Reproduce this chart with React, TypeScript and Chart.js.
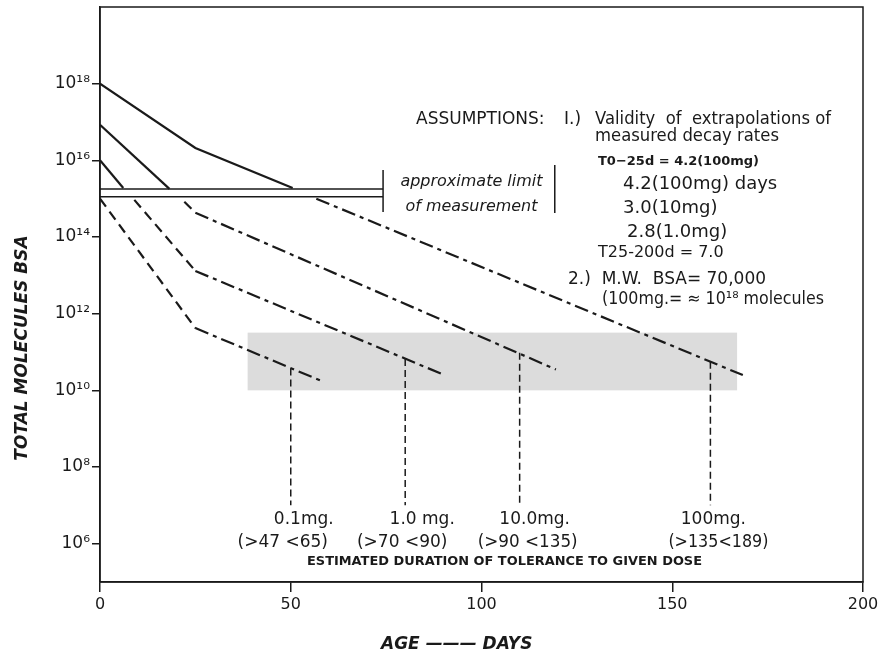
import { useEffect, useRef } from 'react';
import { Chart, registerables } from 'chart.js';

Chart.register(...registerables);

// ---------- data ----------
const dayTicks = [0, 50, 100, 150, 200];
const yTickValues = [1e6, 1e8, 1e10, 1e12, 1e14, 1e16, 1e18];

// 100 mg
const d100Solid = [0, 25, 50.5];
const m100Solid = [1e18, 2.1e16, 1.9e15];
const d100DashDot = [56.7, 168.5];
const m100DashDot = [1.0e15, 2.5e10];
// 10 mg
const d10Solid = [0, 18.2];
const m10Solid = [8.5e16, 1.8e15];
const d10Dash = [22.1, 25];
const m10Dash = [8.3e14, 4.3e14];
const d10DashDot = [25, 119.5];
const m10DashDot = [4.3e14, 3.5e10];
// 1.0 mg
const d1Solid = [0, 6.1];
const m1Solid = [1e16, 1.9e15];
const d1Dash = [9.0, 25];
const m1Dash = [9.3e14, 1.3e13];
const d1DashDot = [25, 89.9];
const m1DashDot = [1.3e13, 2.6e10];
// 0.1 mg
const d01Dash = [0, 25];
const m01Dash = [1e15, 4.2e11];
const d01DashDot = [25, 58.4];
const m01DashDot = [4.2e11, 1.7e10];

// estimated duration of tolerance
const doseLabels = ['0.1mg.', '1.0 mg.', '10.0mg.', '100mg.'];
const toleranceRanges = ['(>47 <65)', '(>70 <90)', '(>90 <135)', '(>135<189)'];
const toleranceDays = [50, 80, 110, 160];
const toleranceTop = [3.7e10, 6.6e10, 9.5e10, 5.6e10];
const toleranceBottom = [1e7, 1e7, 1e7, 1e7];

// approximate limit of measurement
const limitDays = [0, 74.2];
const limitLow = [1.12e15, 1.12e15];
const limitHigh = [1.78e15, 1.78e15];

// shaded zone
const grayDays = [38.7, 167];
const grayMol = [1e10, 3.2e11];

// ---------- styles ----------
const INK = '#1a1a1a';
const SOLID: number[] = [];
const DASH = [10, 6];
const DASHDOT = [14, 5, 4, 5];
const DROP = [7, 4];

const SUP: Record<string, string> = {
  '0': '⁰', '1': '¹', '2': '²', '3': '³', '4': '⁴',
  '5': '⁵', '6': '⁶', '7': '⁷', '8': '⁸', '9': '⁹',
};

const pts = (xs: number[], ys: number[]) => xs.map((v, i) => ({ x: v, y: ys[i] }));

const curve = (xs: number[], ys: number[], dash: number[], width = 2.2) => ({
  data: pts(xs, ys),
  borderColor: INK,
  borderWidth: width,
  borderDash: dash,
  pointRadius: 0,
  fill: false,
  tension: 0,
});

function txt(
  ctx: CanvasRenderingContext2D,
  s: string,
  x: number,
  y: number,
  font: string,
  align: CanvasTextAlign = 'left',
  maxW?: number
) {
  ctx.font = font;
  ctx.textAlign = align;
  ctx.textBaseline = 'middle';
  if (maxW) ctx.fillText(s, x, y, maxW);
  else ctx.fillText(s, x, y);
}

const annotations = {
  id: 'annotations',
  beforeDatasetsDraw(chart: any) {
    const { ctx, scales } = chart;
    const x = scales.x;
    const y = scales.y;
    ctx.save();
    ctx.fillStyle = '#dcdcdc';
    const x0 = x.getPixelForValue(grayDays[0]);
    const x1 = x.getPixelForValue(grayDays[1]);
    const y0 = y.getPixelForValue(grayMol[1]);
    const y1 = y.getPixelForValue(grayMol[0]);
    ctx.fillRect(x0, y0, x1 - x0, y1 - y0);
    ctx.restore();
  },
  afterDraw(chart: any) {
    const { ctx, chartArea, scales } = chart;
    const x = scales.x;
    const y = scales.y;
    ctx.save();
    ctx.strokeStyle = INK;
    ctx.fillStyle = INK;
    ctx.lineWidth = 1.5;
    ctx.setLineDash([]);
    // frame
    ctx.strokeRect(chartArea.left, chartArea.top, chartArea.right - chartArea.left, chartArea.bottom - chartArea.top);

    // limit of measurement end mark + text
    const xl = x.getPixelForValue(limitDays[1]);
    const yMid = (y.getPixelForValue(limitLow[1]) + y.getPixelForValue(limitHigh[1])) / 2;
    ctx.beginPath();
    ctx.moveTo(xl, yMid - 23);
    ctx.lineTo(xl, yMid + 19);
    ctx.moveTo(xl + 171.7, yMid - 28);
    ctx.lineTo(xl + 171.7, yMid + 20);
    ctx.stroke();
    const itf = 'italic 16px "DejaVu Sans", sans-serif';
    txt(ctx, 'approximate limit', xl + 88.4, yMid - 11.3, itf, 'center', 152);
    txt(ctx, 'of measurement', xl + 88.4, yMid + 13.7, itf, 'center', 132);

    // dose labels
    const offs = [13, 17, 15, 3];
    const offs2 = [-8, -3, 8, 8];
    const yb = y.getPixelForValue(toleranceBottom[0]);
    const lf = '17px "DejaVu Sans", sans-serif';
    toleranceDays.forEach((d, i) => {
      const px = x.getPixelForValue(d);
      txt(ctx, doseLabels[i], px + offs[i], yb + 14, lf, 'center', 72);
      txt(ctx, toleranceRanges[i], px + offs2[i], yb + 37.5, lf, 'center', 100);
    });
    txt(ctx, 'ESTIMATED DURATION OF TOLERANCE TO GIVEN DOSE', 504.5, 561.5,
      'bold 13px "DejaVu Sans", sans-serif', 'center', 395);

    // assumptions block
    const af = '17px "DejaVu Sans", sans-serif';
    txt(ctx, 'ASSUMPTIONS:', 416, 119.5, af, 'left', 134);
    txt(ctx, 'I.)', 564, 119.5, af, 'left');
    txt(ctx, 'Validity  of  extrapolations of', 595, 119.5, af, 'left', 236);
    txt(ctx, 'measured decay rates', 595, 137, af, 'left', 184);
    txt(ctx, 'T0−25d = 4.2(100mg)', 598, 162, 'bold 13px "DejaVu Sans", sans-serif', 'left', 172);
    txt(ctx, '4.2(100mg) days', 623, 184.5, '18px "DejaVu Sans", sans-serif', 'left', 157);
    txt(ctx, '3.0(10mg)', 623, 208.5, '18px "DejaVu Sans", sans-serif', 'left', 100);
    txt(ctx, '2.8(1.0mg)', 627, 232, '18px "DejaVu Sans", sans-serif', 'left', 101);
    txt(ctx, 'T25-200d = 7.0', 598, 253, '16px "DejaVu Sans", sans-serif', 'left', 130);
    txt(ctx, '2.)  M.W.  BSA= 70,000', 568, 280, '17px "DejaVu Sans", sans-serif', 'left', 200);
    txt(ctx, '(100mg.= ≈ 10¹⁸ molecules', 602, 300, '17px "DejaVu Sans", sans-serif', 'left', 222);

    // axis titles
    txt(ctx, 'AGE ——— DAYS', 456.7, 645, 'italic bold 17px "DejaVu Sans", sans-serif', 'center', 153);
    ctx.translate(22.5, 348);
    ctx.rotate(-Math.PI / 2);
    txt(ctx, 'TOTAL MOLECULES BSA', 0, 0, 'italic bold 17px "DejaVu Sans", sans-serif', 'center', 230);
    ctx.restore();
  },
};

export default function App() {
  const ref = useRef<HTMLCanvasElement | null>(null);

  useEffect(() => {
    if (!ref.current) return;
    const datasets: any[] = [
      // 100 mg
      curve(d100Solid, m100Solid, SOLID),
      curve(d100DashDot, m100DashDot, DASHDOT),
      // 10 mg
      curve(d10Solid, m10Solid, SOLID),
      curve(d10Dash, m10Dash, DASH),
      curve(d10DashDot, m10DashDot, DASHDOT),
      // 1.0 mg
      curve(d1Solid, m1Solid, SOLID),
      curve(d1Dash, m1Dash, DASH),
      curve(d1DashDot, m1DashDot, DASHDOT),
      // 0.1 mg
      curve(d01Dash, m01Dash, DASH),
      curve(d01DashDot, m01DashDot, DASHDOT),
      // limit of measurement
      curve(limitDays, limitLow, SOLID, 1.5),
      curve(limitDays, limitHigh, SOLID, 1.5),
    ];
    toleranceDays.forEach((d, i) => {
      datasets.push(curve([d, d], [toleranceTop[i], toleranceBottom[i]], DROP, 1.5));
    });

    const chart = new Chart(ref.current, {
      type: 'line',
      data: { datasets },
      plugins: [annotations],
      options: {
        responsive: false,
        animation: false,
        events: [],
        layout: { padding: { top: 7, right: 20, bottom: 10, left: 0 } },
        plugins: { legend: { display: false }, tooltip: { enabled: false }, title: { display: false } },
        scales: {
          x: {
            type: 'linear',
            min: 0,
            max: 200,
            afterBuildTicks: (s: any) => {
              s.ticks = dayTicks.map((v) => ({ value: v }));
            },
            ticks: {
              color: INK,
              font: { family: '"DejaVu Sans", sans-serif', size: 16 },
              padding: 3,
              maxRotation: 0,
              autoSkip: false,
            },
            grid: { drawOnChartArea: false, drawTicks: true, tickLength: 10, color: INK, lineWidth: 1.5 },
            border: { display: true, color: INK, width: 1.5 },
            afterFit: (s: any) => {
              s.height = 65;
              s.paddingLeft = 0;
              s.paddingRight = 0;
            },
          },
          y: {
            type: 'logarithmic',
            min: 1e5,
            max: 1e20,
            afterBuildTicks: (s: any) => {
              s.ticks = yTickValues.map((v) => ({ value: v }));
            },
            ticks: {
              color: INK,
              font: { family: '"DejaVu Sans", sans-serif', size: 17 },
              padding: 2,
              autoSkip: false,
              callback: (v: any) => {
                const e = String(Math.round(Math.log10(Number(v))));
                return '10' + e.split('').map((c) => SUP[c]).join('');
              },
            },
            grid: { drawOnChartArea: false, drawTicks: true, tickLength: 8, color: INK, lineWidth: 1.5 },
            border: { display: true, color: INK, width: 1.5 },
            afterFit: (s: any) => {
              s.width = 100;
              s.paddingTop = 0;
              s.paddingBottom = 0;
            },
          },
        },
      },
    } as any);
    return () => chart.destroy();
  }, []);

  return (
    <div style={{ position: 'fixed', left: 0, top: 0, width: 883, height: 657, background: '#fff' }}>
      <canvas ref={ref} width={883} height={657} style={{ display: 'block' }} />
    </div>
  );
}
